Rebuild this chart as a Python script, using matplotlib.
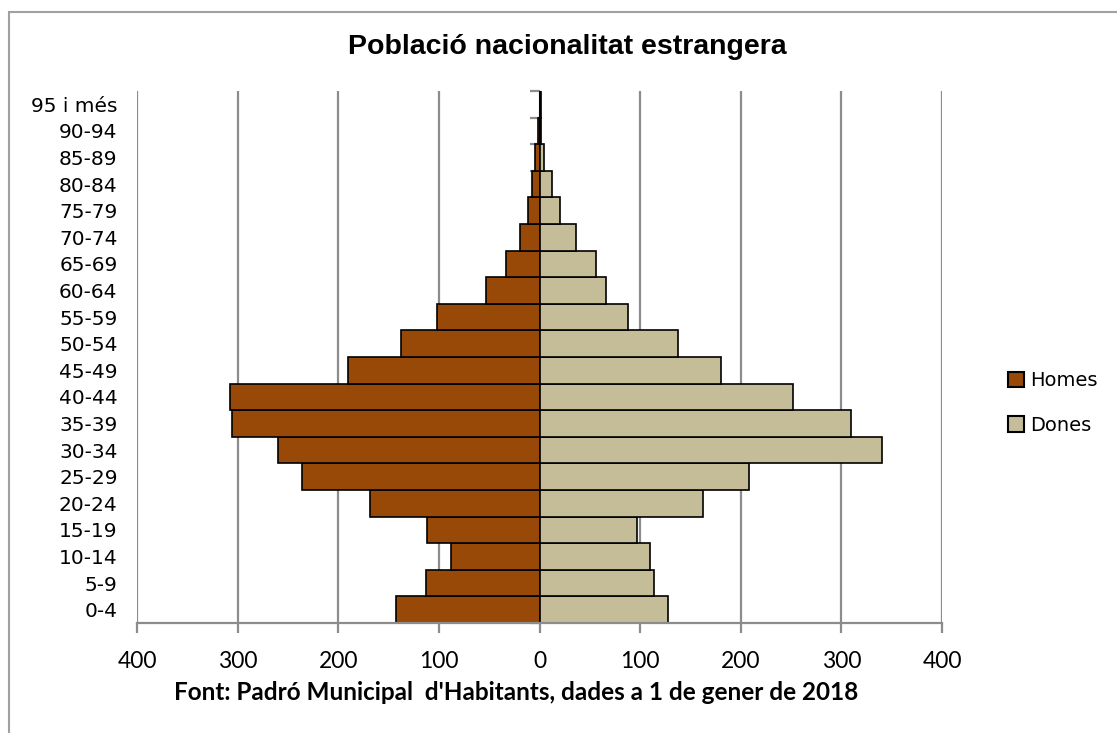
import matplotlib
matplotlib.use("Agg")
import numpy as np
from matplotlib import pyplot as plt
from matplotlib.patches import Rectangle, Patch
from matplotlib.ticker import FuncFormatter, MultipleLocator

# dades
grups = ["0-4", "5-9", "10-14", "15-19", "20-24", "25-29", "30-34", "35-39",
         "40-44", "45-49", "50-54", "55-59", "60-64", "65-69", "70-74",
         "75-79", "80-84", "85-89", "90-94", "95 i més"]
homes = [143, 113, 88, 112, 168, 236, 260, 306, 308, 190,
         138, 102, 53, 33, 19, 11, 7, 4, 1, 0]
dones = [128, 114, 110, 97, 162, 208, 340, 310, 252, 180,
         138, 88, 66, 56, 36, 20, 12, 4, 1, 1]

titol = "Població nacionalitat estrangera"
font_txt = "Font: Padró Municipal  d'Habitants, dades a 1 de gener de 2018"

col_homes = "#984807"
col_dones = "#c4bd97"
gris = "#8c8c8c"

W, H = 1117, 733
fig = plt.figure(figsize=(W / 100, H / 100), dpi=100)
ax = fig.add_axes([137 / W, 1 - 623 / H, (942 - 137) / W, (623 - 91) / H])

y = np.arange(len(grups))
ax.barh(y, -np.array(homes), height=1.0, color=col_homes, edgecolor="black",
        linewidth=1.2, zorder=2, label="Homes")
ax.barh(y, dones, height=1.0, color=col_dones, edgecolor="black",
        linewidth=1.2, zorder=2, label="Dones")

ax.set_xlim(-400, 400)
ax.set_ylim(-0.5, len(grups) - 0.5)

# graella vertical
ax.xaxis.set_major_locator(MultipleLocator(100))
ax.grid(axis="x", color=gris, linewidth=1.6, zorder=0)
ax.set_axisbelow(True)
ax.xaxis.set_major_formatter(FuncFormatter(lambda v, p: f"{abs(int(v))}"))
ax.tick_params(axis="x", direction="out", length=7, width=1.6, color=gris,
               pad=13, labelsize=16.5)
for t in ax.get_xticklabels():
    t.set_family(["Lato", "DejaVu Sans"])

# etiquetes a la posicio baixa
ax.set_yticks(y)
ax.set_yticklabels(grups, fontsize=14.5, family="DejaVu Sans")
ax.tick_params(axis="y", length=0, pad=14)

for s in ["top", "right", "left"]:
    ax.spines[s].set_visible(False)
ax.spines["bottom"].set_color(gris)
ax.spines["bottom"].set_linewidth(1.6)

# eix del zero amb marques entre grups
eix = ax.secondary_yaxis(0.5)
eix.set_yticks(np.arange(len(grups) + 1) - 0.5)
eix.set_yticklabels([])
eix.tick_params(length=7, width=1.6, color=gris, direction="in")
eix.spines["left"].set_color(gris)
eix.spines["left"].set_linewidth(2)

fig.text(567 / W, 1 - 47 / H, titol, ha="center", va="center",
         fontsize=20.5, fontweight="bold", family="Liberation Sans")
fig.text(516 / W, 1 - 693 / H, font_txt, ha="center", va="center",
         fontsize=17.5, fontweight="bold", family=["Lato", "DejaVu Sans"])

handles = [Patch(facecolor=col_homes, edgecolor="black", linewidth=1.5, label="Homes"),
           Patch(facecolor=col_dones, edgecolor="black", linewidth=1.5, label="Dones")]
fig.legend(handles=handles, loc="center left", bbox_to_anchor=(990 / W, 1 - 403 / H),
           frameon=False, handlelength=0.85, handleheight=0.85, handletextpad=0.3,
           labelspacing=1.3, prop={"family": "DejaVu Sans", "size": 14})

# marc del grafic
fig.patches.append(Rectangle((8.5 / W, -0.1), 1.2, 1.1 - 11.5 / H,
                             transform=fig.transFigure, fill=False,
                             edgecolor="#a0a0a0", linewidth=1.5))

fig.savefig("out.png", dpi=100)
